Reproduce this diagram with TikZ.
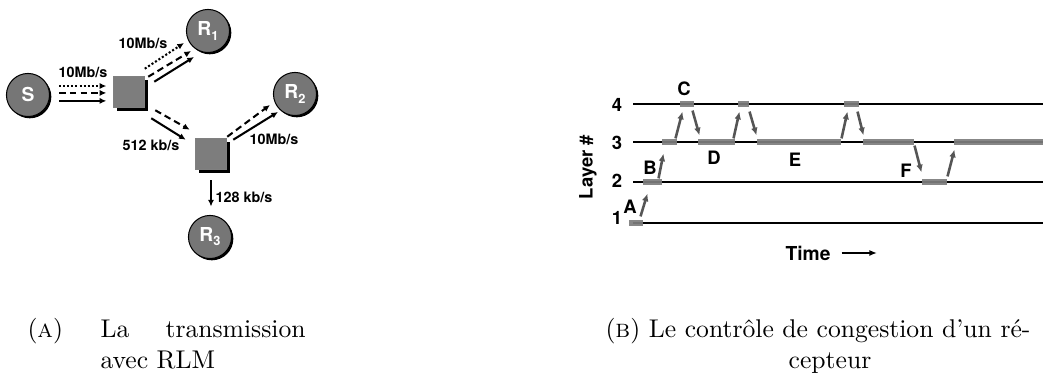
\documentclass[tikz,border=0pt]{standalone}
\usepackage{fontspec}
\newfontfamily\helv{TeX Gyre Heros}
\usetikzlibrary{positioning, arrows.meta, shapes, shadows}
\definecolor{nodegray}{RGB}{118,118,118}
\definecolor{blockgray}{RGB}{125,125,125}
\definecolor{arrowgray}{RGB}{85,85,85}
\newcommand{\ratelbl}[1]{{\helv\bfseries\fontsize{5.6}{6}\selectfont #1}}
\newcommand{\rsub}[1]{R\raisebox{-1.6pt}{\fontsize{5}{5}\selectfont #1}}

\begin{document}
\begin{tikzpicture}[x=0.39pt, y=-0.39pt,
    host/.style={circle, draw=black, line width=0.4pt, fill=nodegray,
                 minimum size=16.8pt, inner sep=0pt, text=white,
                 font=\helv\bfseries\fontsize{7.5}{8}\selectfont,
                 drop shadow={shadow xshift=0.7pt, shadow yshift=-0.7pt, fill=black, opacity=1}},
    router/.style={rectangle, fill=blockgray, draw=gray, line width=0.2pt,
                   minimum size=12.1pt, inner sep=0pt,
                   drop shadow={shadow xshift=1.5pt, shadow yshift=-1.5pt, fill=black, opacity=1}},
    flow/.style={line width=0.8pt, -{Latex[length=2.6pt,width=2.4pt]}},
    dotflow/.style={flow, dash pattern=on 0.8pt off 0.8pt},
    dashflow/.style={flow, dash pattern=on 2.6pt off 1.6pt},
    layerblock/.style={rectangle, fill=blockgray, fill opacity=0.92, minimum height=2.4pt, inner sep=0pt},
    jump/.style={draw=arrowgray, line width=1pt, -{Latex[length=3pt,width=2.6pt]}},
    axislbl/.style={inner sep=0pt, font=\helv\bfseries\fontsize{7.2}{8}\selectfont}]
  \useasboundingbox (0,0) rectangle (1045,374);

  % (a) RLM network
  \node[host] (S) at (28,95) {S};
  \node[host] (R1) at (208,31) {\rsub{1}};
  \node[host] (R2) at (295,94) {\rsub{2}};
  \node[host] (R3) at (210,237) {\rsub{3}};
  \node[router] (sw1) at (129,92) {};
  \node[router] (sw2) at (211,154) {};

  \draw[dotflow, shorten <=3.5pt, shorten >=2.7pt] ([yshift=3.5pt]S.east) -- ([yshift=3.5pt]S.east -| sw1.west);
  \draw[dashflow, shorten <=3.5pt, shorten >=2.7pt] ([yshift=0.8pt]S.east) -- ([yshift=0.8pt]S.east -| sw1.west);
  \draw[flow, shorten <=3.5pt, shorten >=2.7pt] ([yshift=-2.3pt]S.east) -- ([yshift=-2.3pt]S.east -| sw1.west);

  \draw[dotflow] ([shift={(0,-7.5)}]sw1.north east) -- ([shift={(-24,12)}]R1.center);
  \draw[dashflow] ([shift={(3.5,0.5)}]sw1.north east) -- ([shift={(-17,20)}]R1.center);
  \draw[flow] ([shift={(9.5,5.5)}]sw1.north east) -- ([shift={(-14,26)}]R1.center);

  \draw[dashflow] ([shift={(10.5,2.5)}]sw1.south east) -- ([shift={(-5.5,-8.5)}]sw2.north west);
  \draw[flow] ([shift={(6.5,10.5)}]sw1.south east) -- ([shift={(-9.5,1.5)}]sw2.north west);

  \draw[dashflow] ([shift={(0.5,-1.5)}]sw2.north east) -- ([shift={(-25,11)}]R2.center);
  \draw[flow] ([shift={(6.5,1.5)}]sw2.north east) -- ([shift={(-17,18)}]R2.center);

  \draw[flow, shorten <=4.1pt, shorten >=3.3pt] (sw2.south) -- (sw2.south |- R3.north);

  \node (rateS) at (83,72) {\ratelbl{10Mb/s}};
  \node (rateR1) at (143,43) {\ratelbl{10Mb/s}};
  \node (rateSw) at (151,145) {\ratelbl{512 kb/s}};
  \node (rateR2) at (274,139) {\ratelbl{10Mb/s}};
  \node (rateR3) at (244,197) {\ratelbl{128 kb/s}};

  % (b) receiver congestion control
  \foreach \n/\y/\ty in {4/104/105, 3/142/143, 2/182/181, 1/223/218} {
    \draw[line width=0.7pt] (633,\y) -- (1043,\y);
    \node[axislbl] (num\n) at (617,\ty) {\n};
  }
  \foreach \nm/\xa/\xb/\y in {bA/629/643/223, bB/643/662/182, bC1/662/677/142,
      bC/680/694/104, bD/698/735/142, bC2/738/749/104, bE/757/841/142,
      bC3/844/859/104, bE2/863/914/142, bF/922/947/182, bG/954/1043/142} {
    \node[layerblock, minimum width={(\xb-\xa)*0.39pt}] (\nm) at ({(\xa+\xb)/2},\y) {};
  }
  \draw[jump] ([shift={(-3,-3)}]bA.north east) -- ([shift={(5,8)}]bB.south west);
  \draw[jump] ([shift={(-4,0)}]bB.north east) -- ([shift={(2,8)}]bC1.south west);
  \draw[jump] ([shift={(-2,0)}]bC1.north east) -- ([shift={(3,4)}]bC.south west);
  \draw[jump] ([shift={(-2,3)}]bC.south east) -- ([shift={(2,-3)}]bD.north west);
  \draw[jump] ([shift={(-2,0)}]bD.north east) -- ([shift={(2,4)}]bC2.south west);
  \draw[jump] ([shift={(0,4)}]bC2.south east) -- ([shift={(0,-3)}]bE.north west);
  \draw[jump] ([shift={(0,0)}]bE.north east) -- ([shift={(4,4)}]bC3.south west);
  \draw[jump] ([shift={(-2,4)}]bC3.south east) -- ([shift={(1,-3)}]bE2.north west);
  \draw[jump] ([shift={(0,0)}]bE2.south east) -- ([shift={(0,-6)}]bF.north west);
  \draw[jump] ([shift={(0,-2)}]bF.north east) -- ([shift={(1,4)}]bG.south west);

  \node[axislbl] (ptA) at (630,207) {A};
  \node[axislbl] (ptB) at (650,168) {B};
  \node[axislbl] (ptC) at (684,89) {C};
  \node[axislbl] (ptD) at (714,158) {D};
  \node[axislbl] (ptE) at (795,160) {E};
  \node[axislbl] (ptF) at (906,171) {F};

  \node[axislbl, rotate=90] (ylab) at (588,167) {Layer \#};
  \node[axislbl, font=\helv\bfseries\fontsize{7.5}{8}\selectfont] (tlab) at (808,253) {Time};
  \coordinate (tend) at (877,253);
  \draw[line width=0.6pt, -{Latex[length=3pt,width=2.4pt]}] ([xshift=4.2pt]tlab.east) -- (tend);

  % captions
  \node[anchor=base west, inner sep=0pt] (capA) at (27,338) {(\textsc{a})};
  \node[anchor=base west, inner sep=0pt, text width=80pt, align=justify] (capAtxt) at (100,338)
    {La transmission avec RLM};
  \node[anchor=base west, inner sep=0pt] (capB) at (605,338)
    {(\textsc{b}) Le contrôle de congestion d'un ré-};
  \node[anchor=base, inner sep=0pt] (capBb) at (830,369) {cepteur};
\end{tikzpicture}
\end{document}
